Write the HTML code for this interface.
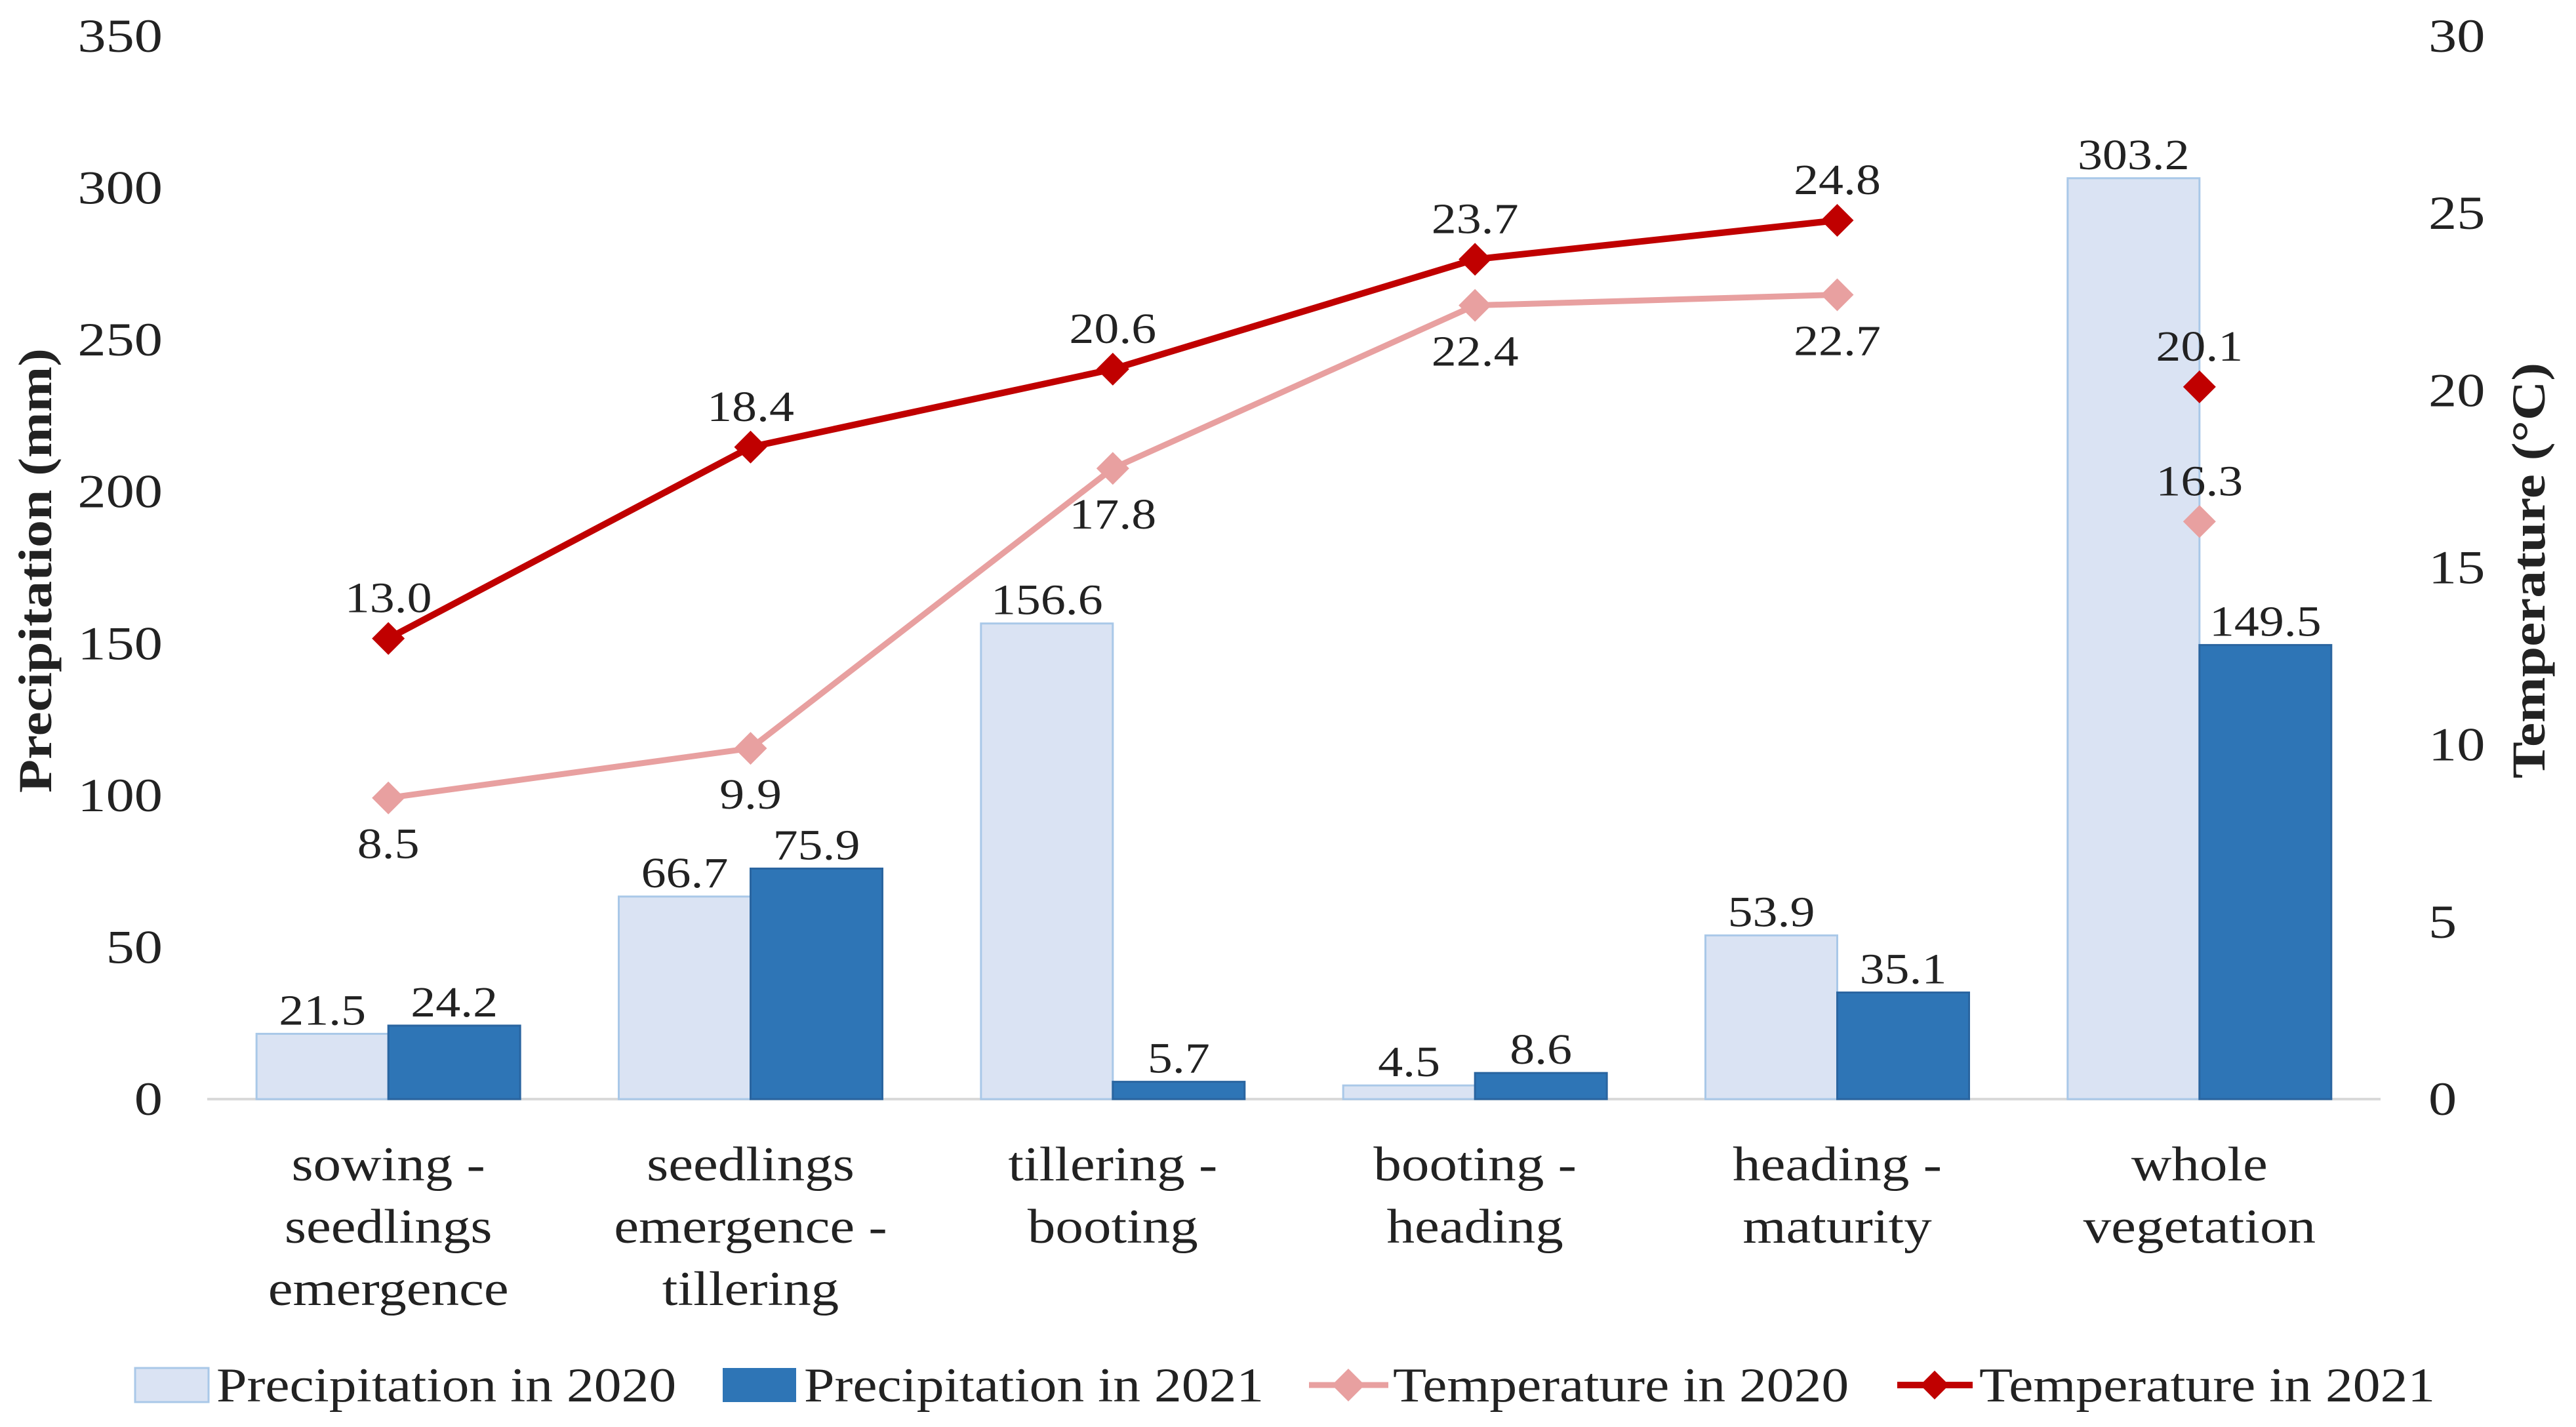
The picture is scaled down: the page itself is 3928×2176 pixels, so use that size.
<!DOCTYPE html>
<html><head><meta charset="utf-8"><style>
html,body{margin:0;padding:0;background:#fff}
svg{display:block}
text{font-family:"Liberation Serif",serif;fill:#222}
</style></head><body>
<svg id="chart" width="3928" height="2176" viewBox="0 0 3928 2176" xmlns="http://www.w3.org/2000/svg"></svg>
<script>
const categories = [["sowing -","seedlings","emergence"],["seedlings","emergence -","tillering"],["tillering -","booting"],["booting -","heading"],["heading -","maturity"],["whole","vegetation"]];
const precip2020 = [21.5, 66.7, 156.6, 4.5, 53.9, 303.2];
const precip2021 = [24.2, 75.9, 5.7, 8.6, 35.1, 149.5];
const temp2020 = [8.5, 9.9, 17.8, 22.4, 22.7, 16.3];
const temp2021 = [13.0, 18.4, 20.6, 23.7, 24.8, 20.1];
const temp2020Above = [false,false,false,false,false,true];
const leftTicks = [0,50,100,150,200,250,300,350];
const rightTicks = [0,5,10,15,20,25,30];

const NS = "http://www.w3.org/2000/svg";
const svg = document.getElementById('chart');
const plotL = 316, plotR = 3630, baseY = 1676, topY = 55;
const yL = v => baseY - (baseY - topY) * v / 350;
const yR = v => baseY - (baseY - topY) * v / 30;
const catW = (plotR - plotL) / categories.length;
const xC = i => plotL + catW * (i + 0.5);
const barW = 201;

function mk(tag, attrs, parent) {
  const e = document.createElementNS(NS, tag);
  for (const k in attrs) e.setAttribute(k, attrs[k]);
  (parent || svg).appendChild(e);
  return e;
}
function txt(x, y, s, attrs, sx) {
  const a = Object.assign({x: 0, y: 0, transform: `translate(${x},${y}) scale(${sx || 1.15},1)`}, attrs || {});
  const t = mk('text', a);
  t.textContent = s;
  return t;
}

let ax = mk('line', {x1: plotL, x2: plotR, y1: baseY, y2: baseY, stroke: '#d9d9d9', 'stroke-width': 4});



leftTicks.forEach(v => {
  const t = txt(248, yL(v) + 24, String(v), {'font-size': 72, 'text-anchor': 'end'}, 1.2);
  
  
});
rightTicks.forEach(v => {
  const t = txt(3703, yR(v) + 24, String(v), {'font-size': 72, 'text-anchor': 'start'}, 1.2);
  
  
});

let yt = mk('text', {x: 0, y: 0, 'font-size': 72, 'font-weight': 'bold', 'text-anchor': 'middle', transform: 'translate(78,870) rotate(-90) scale(1.16,1)'});
yt.textContent = 'Precipitation (mm)';


let yt2 = mk('text', {x: 0, y: 0, 'font-size': 72, 'font-weight': 'bold', 'text-anchor': 'middle', transform: 'translate(3880,870) rotate(-90) scale(1.16,1)'});
yt2.textContent = 'Temperature (°C)';



categories.forEach((c, i) => {
  const x0 = xC(i) - barW, x1 = xC(i);
  const b1 = mk('rect', {x: x0, y: yL(precip2020[i]), width: barW, height: baseY - yL(precip2020[i]), fill: '#dae3f3', stroke: '#a9c8e8', 'stroke-width': 3});
  
  
  const b2 = mk('rect', {x: x1, y: yL(precip2021[i]), width: barW, height: baseY - yL(precip2021[i]), fill: '#2e75b6', stroke: '#2a65a0', 'stroke-width': 3});
  
  
  const l1 = txt(x0 + barW / 2, yL(precip2020[i]) - 14, precip2020[i].toFixed(1), {'font-size': 66, 'text-anchor': 'middle'});
  
  
  const l2 = txt(x1 + barW / 2, yL(precip2021[i]) - 14, precip2021[i].toFixed(1), {'font-size': 66, 'text-anchor': 'middle'});
  
  
  c.forEach((line, k) => {
    const ct = txt(xC(i), 1800 + k * 95, line, {'font-size': 74, 'text-anchor': 'middle'});
    
    
  });
});

function diamond(x, y, r, color, name) {
  const d = mk('polygon', {points: `${x},${y - r} ${x + r},${y} ${x},${y + r} ${x - r},${y}`, fill: color});
  
  
}
function series(vals, color, w, name) {
  const pts = vals.slice(0, 5).map((v, i) => xC(i) + ',' + yR(v)).join(' ');
  const pl = mk('polyline', {points: pts, fill: 'none', stroke: color, 'stroke-width': w, 'stroke-linejoin': 'round'});
  
  
  vals.forEach((v, i) => diamond(xC(i), yR(v), 25, color, name + '-point'));
}
series(temp2020, '#e8a0a0', 9, 'temp-2020');
series(temp2021, '#c00000', 10, 'temp-2021');
temp2020.forEach((v, i) => {
  const y = temp2020Above[i] ? yR(v) - 40 : yR(v) + 92;
  const t = txt(xC(i), y, v.toFixed(1), {'font-size': 66, 'text-anchor': 'middle'});
  
  
});
temp2021.forEach((v, i) => {
  const t = txt(xC(i), yR(v) - 40, v.toFixed(1), {'font-size': 66, 'text-anchor': 'middle'});
  
  
});

const lg = mk('g', {});


const ly = 2112;
let r1 = mk('rect', {x: 206, y: ly - 26, width: 112, height: 52, fill: '#dae3f3', stroke: '#a9c8e8', 'stroke-width': 3}, lg);


let t1 = txt(330, ly + 25, 'Precipitation in 2020', {'font-size': 74, 'text-anchor': 'start'}, 1.13);
lg.appendChild(t1);


let r2 = mk('rect', {x: 1102, y: ly - 26, width: 112, height: 52, fill: '#2e75b6'}, lg);


let t2 = txt(1226, ly + 25, 'Precipitation in 2021', {'font-size': 74, 'text-anchor': 'start'}, 1.13);
lg.appendChild(t2);


let s3 = mk('line', {x1: 1996, x2: 2117, y1: ly, y2: ly, stroke: '#e8a0a0', 'stroke-width': 9}, lg);


diamond(2056, ly, 25, '#e8a0a0', 'legend-marker-temp-2020');
let t3 = txt(2124, ly + 25, 'Temperature in 2020', {'font-size': 74, 'text-anchor': 'start'}, 1.13);
lg.appendChild(t3);


let s4 = mk('line', {x1: 2893, x2: 3008, y1: ly, y2: ly, stroke: '#c00000', 'stroke-width': 10}, lg);


diamond(2950, ly, 22, '#c00000', 'legend-marker-temp-2021');
let t4 = txt(3018, ly + 25, 'Temperature in 2021', {'font-size': 74, 'text-anchor': 'start'}, 1.13);
lg.appendChild(t4);


</script>
</body></html>
